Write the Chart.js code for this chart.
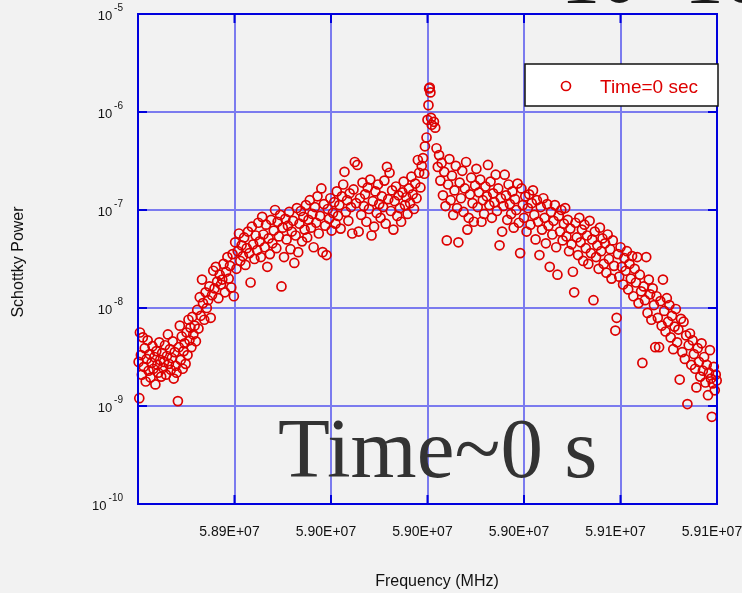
<!DOCTYPE html>
<html>
<head>
<meta charset="utf-8">
<script src="https://cdn.jsdelivr.net/npm/chart.js@4/dist/chart.umd.min.js"></script>
<style>
  html, body { margin: 0; padding: 0; background: #f2f2f2; }
  #wrap { width: 742px; height: 593px; }
</style>
</head>
<body>
<div id="wrap"><canvas id="schottky" width="742" height="593"></canvas></div>
<script>
// frequency offset from 59.000 MHz, in kHz
const CENTER_HZ = 59000000;
const freqKHz = [
  -89.8,-89.6,-89.4,-89.1,-88.8,-88.5,-88.2,-87.9,-87.6,-87.3,
  -87.0,-86.7,-86.4,-86.1,-85.8,-85.5,-85.2,-84.9,-84.6,-84.3,
  -84.0,-83.7,-83.4,-83.1,-82.8,-82.5,-82.2,-81.9,-81.6,-81.3,
  -81.0,-80.7,-80.4,-80.1,-79.8,-79.5,-79.2,-78.9,-78.6,-78.3,
  -78.0,-77.6,-77.3,-77.0,-76.7,-76.4,-76.1,-75.8,-75.5,-75.2,
  -74.9,-74.6,-74.3,-74.0,-73.7,-73.4,-73.1,-72.8,-72.4,-72.0,
  -71.6,-71.2,-70.8,-70.5,-70.1,-69.8,-69.4,-69.0,-68.6,-68.2,
  -67.8,-67.4,-67.0,-66.6,-66.2,-65.8,-65.4,-65.0,-64.6,-64.2,
  -63.8,-63.4,-63.0,-62.6,-62.2,-61.8,-61.4,-61.0,-60.6,-60.2,
  -59.8,-59.4,-59.0,-58.6,-58.2,-57.8,-57.4,-57.0,-56.6,-56.2,
  -55.8,-55.4,-55.0,-54.6,-54.2,-53.8,-53.4,-53.0,-52.6,-52.2,
  -51.8,-51.4,-51.0,-50.6,-50.2,-49.8,-49.4,-49.0,-48.6,-48.2,
  -47.8,-47.4,-47.0,-46.6,-46.2,-45.8,-45.4,-45.0,-44.6,-44.2,
  -43.8,-43.4,-43.0,-42.6,-42.2,-41.8,-41.4,-41.0,-40.6,-40.2,
  -39.8,-39.4,-39.0,-38.6,-38.2,-37.8,-37.4,-37.0,-36.6,-36.2,
  -35.8,-35.4,-35.0,-34.6,-34.2,-33.8,-33.4,-33.0,-32.6,-32.2,
  -31.8,-31.4,-31.0,-30.6,-30.2,-29.8,-29.4,-29.0,-28.6,-28.2,
  -27.8,-27.4,-27.0,-26.6,-26.2,-25.8,-25.4,-25.0,-24.6,-24.2,
  -23.8,-23.4,-23.0,-22.6,-22.2,-21.8,-21.4,-21.0,-20.6,-20.2,
  -19.8,-19.4,-19.0,-18.6,-18.2,-17.8,-17.4,-17.0,-16.6,-16.2,
  -15.8,-15.4,-15.0,-14.6,-14.2,-13.8,-13.4,-13.0,-12.6,-12.2,
  -11.8,-11.4,-11.0,-10.6,-10.2,-9.8,-9.4,-9.0,-8.6,-8.2,
  -7.8,-7.4,-7.0,-6.6,-6.2,-5.8,-5.4,-5.0,-4.6,-4.2,
  -3.8,-3.4,-3.0,-2.6,-2.2,-1.8,-1.4,-1.0,-0.8,-0.3,
  0.0,0.3,0.5,0.7,0.9,1.1,1.3,2.0,2.4,2.8,
  3.2,3.6,4.0,4.4,4.8,5.2,5.6,6.0,6.4,6.8,
  7.2,7.6,8.0,8.4,8.8,9.2,9.6,10.0,10.4,10.8,
  11.2,11.6,12.0,12.4,12.8,13.2,13.6,14.0,14.4,14.8,
  15.2,15.6,16.0,16.4,16.8,17.2,17.6,18.0,18.4,18.8,
  19.2,19.6,20.0,20.4,20.8,21.2,21.6,22.0,22.4,22.8,
  23.2,23.6,24.0,24.4,24.8,25.2,25.6,26.0,26.4,26.8,
  27.2,27.6,28.0,28.4,28.8,29.2,29.6,30.0,30.4,30.8,
  31.2,31.6,32.0,32.4,32.8,33.2,33.6,34.0,34.4,34.8,
  35.2,35.6,36.0,36.4,36.8,37.2,37.6,38.0,38.4,38.8,
  39.2,39.6,40.0,40.4,40.8,41.2,41.6,42.0,42.4,42.8,
  43.2,43.6,44.0,44.4,44.8,45.2,45.6,46.0,46.4,46.8,
  47.2,47.6,48.0,48.4,48.8,49.2,49.6,50.0,50.4,50.8,
  51.2,51.6,52.0,52.4,52.8,53.2,53.6,54.0,54.4,54.8,
  55.2,55.6,56.0,56.4,56.8,57.2,57.6,58.0,58.4,58.8,
  59.2,59.6,60.0,60.4,60.8,61.2,61.6,62.0,62.4,62.8,
  63.2,63.6,64.0,64.4,64.8,65.2,65.6,66.0,66.4,66.8,
  67.2,67.6,68.0,68.4,68.8,69.2,69.6,70.0,70.4,70.8,
  71.2,71.6,72.0,72.4,72.8,73.2,73.6,74.0,74.4,74.8,
  75.2,75.6,76.0,76.4,76.8,77.2,77.6,78.0,78.4,78.8,
  79.2,79.6,80.0,80.4,80.8,81.2,81.6,82.0,82.4,82.8,
  83.2,83.6,84.0,84.4,84.8,85.2,85.6,86.0,86.4,86.8,
  87.2,87.5,87.8,88.1,88.4,88.7,89.0,89.3,89.6,89.9
];
// log10 of the Schottky power
const logPower = [
  -8.55,-8.92,-8.25,-8.48,-8.68,-8.30,-8.60,-8.41,-8.75,-8.52,
  -8.33,-8.64,-8.47,-8.71,-8.56,-8.39,-8.62,-8.50,-8.78,-8.44,
  -8.58,-8.66,-8.35,-8.53,-8.70,-8.46,-8.61,-8.55,-8.38,-8.68,
  -8.49,-8.27,-8.57,-8.42,-8.63,-8.51,-8.34,-8.72,-8.45,-8.59,
  -8.66,-8.95,-8.40,-8.18,-8.53,-8.29,-8.62,-8.44,-8.36,-8.57,
  -8.25,-8.48,-8.12,-8.33,-8.20,-8.40,-8.09,-8.27,-8.18,-8.34,
  -8.02,-8.21,-7.89,-8.08,-7.71,-7.95,-8.12,-7.84,-8.00,-7.92,
  -7.78,-8.10,-7.87,-7.62,-7.80,-7.58,-7.73,-7.90,-7.66,-7.76,
  -7.71,-7.55,-7.84,-7.63,-7.48,-7.70,-7.57,-7.79,-7.45,-7.88,
  -7.33,-7.60,-7.42,-7.24,-7.52,-7.36,-7.47,-7.28,-7.56,-7.39,
  -7.22,-7.44,-7.74,-7.17,-7.35,-7.50,-7.26,-7.41,-7.13,-7.32,
  -7.48,-7.07,-7.25,-7.38,-7.15,-7.58,-7.29,-7.45,-7.10,-7.34,
  -7.21,-7.00,-7.39,-7.12,-7.27,-7.05,-7.78,-7.18,-7.48,-7.09,
  -7.30,-7.16,-7.02,-7.40,-7.22,-7.11,-7.54,-7.26,-6.98,-7.43,
  -7.14,-7.01,-7.32,-7.07,-7.20,-6.95,-7.28,-7.10,-6.90,-7.18,
  -7.04,-7.38,-6.97,-7.13,-6.86,-7.24,-7.06,-6.78,-7.43,-6.94,
  -7.16,-7.46,-6.99,-7.09,-6.88,-7.21,-7.03,-6.92,-7.14,-6.81,
  -7.06,-6.95,-7.19,-6.86,-6.74,-6.61,-7.02,-6.90,-7.11,-6.83,
  -6.97,-7.24,-6.79,-6.51,-6.93,-6.54,-7.22,-6.88,-7.05,-6.72,
  -6.96,-6.84,-7.12,-6.77,-6.99,-6.69,-7.26,-6.91,-7.17,-6.81,
  -7.03,-6.74,-6.94,-7.08,-6.86,-6.97,-6.70,-7.14,-6.56,-6.89,
  -6.62,-7.01,-6.80,-7.20,-6.91,-6.76,-7.06,-6.85,-6.98,-7.12,
  -6.82,-6.71,-6.95,-6.87,-7.04,-6.78,-6.93,-6.66,-6.84,-6.99,
  -6.73,-6.88,-6.49,-6.62,-6.77,-6.55,-6.47,-6.63,-6.35,-6.26,
  -6.08,-5.93,-5.76,-5.75,-5.80,-6.06,-6.13,-6.10,-6.16,-6.37,
  -6.56,-6.44,-6.70,-6.52,-6.85,-6.61,-6.96,-7.31,-6.74,-6.48,
  -6.90,-6.65,-7.05,-6.80,-6.55,-6.98,-7.33,-6.72,-6.88,-6.60,
  -7.02,-6.78,-6.51,-7.20,-7.08,-6.84,-6.67,-6.93,-7.12,-6.75,
  -6.58,-6.97,-6.82,-6.69,-7.12,-6.90,-7.04,-6.76,-6.86,-6.54,
  -6.95,-6.71,-7.08,-6.83,-6.92,-6.64,-7.01,-6.78,-7.36,-6.88,
  -7.22,-6.96,-6.64,-6.85,-7.10,-6.74,-6.94,-7.04,-6.81,-7.18,
  -6.89,-7.00,-6.73,-7.13,-7.44,-6.78,-6.95,-7.08,-6.86,-7.22,
  -6.98,-6.84,-7.15,-6.93,-6.80,-7.05,-7.30,-6.90,-7.12,-7.46,
  -6.97,-7.20,-6.88,-7.08,-7.34,-6.94,-7.16,-7.58,-7.02,-7.25,
  -7.11,-6.95,-7.38,-7.66,-7.06,-7.22,-7.00,-7.31,-7.14,-6.98,
  -7.27,-7.10,-7.42,-7.19,-7.35,-7.63,-7.84,-7.13,-7.28,-7.46,
  -7.08,-7.33,-7.20,-7.52,-7.15,-7.39,-7.26,-7.55,-7.11,-7.44,
  -7.30,-7.92,-7.22,-7.48,-7.36,-7.60,-7.18,-7.42,-7.29,-7.55,
  -7.34,-7.64,-7.25,-7.50,-7.40,-7.70,-7.31,-7.57,-8.23,-8.10,
  -7.45,-7.68,-7.38,-7.58,-7.76,-7.49,-7.62,-7.42,-7.81,-7.55,
  -7.70,-7.47,-7.88,-7.60,-7.74,-7.48,-7.95,-7.66,-7.83,-8.56,
  -7.78,-7.92,-7.48,-8.05,-7.71,-7.86,-8.12,-7.80,-7.97,-8.40,
  -7.88,-8.10,-8.40,-7.93,-8.18,-7.71,-8.03,-8.24,-7.90,-8.14,
  -7.97,-8.30,-8.08,-8.42,-8.19,-8.01,-8.35,-8.22,-8.73,-8.11,
  -8.45,-8.14,-8.52,-8.28,-8.98,-8.38,-8.26,-8.58,-8.33,-8.47,
  -8.62,-8.81,-8.41,-8.55,-8.70,-8.36,-8.64,-8.50,-8.76,-8.58,
  -8.89,-8.66,-8.43,-8.72,-9.11,-8.77,-8.60,-8.84,-8.68,-8.74
];

const xTickValues = [58910000, 58940000, 58970000, 59000000, 59030000, 59060000, 59090000];
const xTickLabels = ['', '5.89E+07', '5.90E+07', '5.90E+07', '5.90E+07', '5.91E+07', '5.91E+07'];
const yTickValues = [1e-10, 1e-9, 1e-8, 1e-7, 1e-6, 1e-5];
const yTickExponents = ['-10', '-9', '-8', '-7', '-6', '-5'];

const seriesLabel = 'Time=0 sec';
const overlayText = 'Time~0 s';
const headerText = '10 -10';

const points = freqKHz.map((f, i) => ({ x: CENTER_HZ + f * 1000, y: Math.pow(10, logPower[i]) }));

const RED = '#dd0000';
const FRAME = '#0000dd';

const decorations = {
    id: 'decorations',
    beforeDraw(chart) {
        const ctx = chart.ctx;
        ctx.save();
        ctx.fillStyle = '#f2f2f2';
        ctx.fillRect(0, 0, chart.width, chart.height);
        ctx.restore();
    },
    afterDraw(chart) {
        const ctx = chart.ctx;
        const a = chart.chartArea;
        const xs = chart.scales.x;
        const ys = chart.scales.y;
        ctx.save();

        // frame
        ctx.strokeStyle = FRAME;
        ctx.lineWidth = 2;
        ctx.strokeRect(a.left, a.top, a.right - a.left, a.bottom - a.top);

        // inward tick marks
        ctx.beginPath();
        xTickValues.forEach(v => {
            const px = xs.getPixelForValue(v);
            ctx.moveTo(px, a.top); ctx.lineTo(px, a.top + 9);
            ctx.moveTo(px, a.bottom); ctx.lineTo(px, a.bottom - 9);
        });
        yTickValues.forEach(v => {
            const py = ys.getPixelForValue(v);
            ctx.moveTo(a.left, py); ctx.lineTo(a.left + 9, py);
            ctx.moveTo(a.right, py); ctx.lineTo(a.right - 9, py);
        });
        ctx.stroke();

        // y tick labels 10^n
        ctx.fillStyle = '#111';
        ctx.textBaseline = 'alphabetic';
        yTickValues.forEach((v, i) => {
            const py = ys.getPixelForValue(v);
            ctx.font = '10px "Liberation Sans", Arial, sans-serif';
            const supW = ctx.measureText(yTickExponents[i]).width;
            const right = 123;
            ctx.textAlign = 'left';
            ctx.fillText(yTickExponents[i], right - supW, py - 3);
            ctx.font = '13px "Liberation Sans", Arial, sans-serif';
            ctx.textAlign = 'right';
            ctx.fillText('10', right - supW - 2, py + 6);
        });

        // x tick labels
        ctx.font = '14px "Liberation Sans", Arial, sans-serif';
        ctx.textAlign = 'center';
        xTickValues.forEach((v, i) => {
            ctx.fillText(xTickLabels[i], xs.getPixelForValue(v) - 5, 536);
        });

        // axis titles
        ctx.font = '16px "Liberation Sans", Arial, sans-serif';
        ctx.fillText('Frequency (MHz)', 437, 586);
        ctx.save();
        ctx.translate(23, 262);
        ctx.rotate(-Math.PI / 2);
        ctx.fillText('Schottky Power', 0, 0);
        ctx.restore();

        // legend
        ctx.fillStyle = '#ffffff';
        ctx.fillRect(525, 64, 193, 42);
        ctx.strokeStyle = '#111';
        ctx.lineWidth = 1.5;
        ctx.strokeRect(525, 64, 193, 42);
        ctx.strokeStyle = RED;
        ctx.lineWidth = 1.7;
        ctx.beginPath();
        ctx.arc(566, 86, 4.5, 0, Math.PI * 2);
        ctx.stroke();
        ctx.fillStyle = RED;
        ctx.font = '19px "Liberation Sans", Arial, sans-serif';
        ctx.textAlign = 'left';
        ctx.fillText(seriesLabel, 600, 93);

        // overlay caption
        ctx.fillStyle = '#333333';
        ctx.font = '85px "Liberation Serif", "Times New Roman", serif';
        ctx.fillText(overlayText, 278, 477);

        // clipped slide title at the top
        ctx.fillStyle = '#1a1a1a';
        ctx.font = '78px "Liberation Serif", "Times New Roman", serif';
        ctx.fillText(headerText, 561, 2);

        ctx.restore();
    }
};

const ctx = document.getElementById('schottky').getContext('2d');
const schottkyChart = new Chart(ctx, {
    type: 'scatter',
    data: {
        datasets: [{
            label: seriesLabel,
            data: points,
            pointStyle: 'circle',
            pointRadius: 4.5,
            pointBorderWidth: 1.7,
            pointBorderColor: RED,
            pointBackgroundColor: 'rgba(0,0,0,0)',
            borderColor: RED,
            backgroundColor: 'rgba(0,0,0,0)',
            clip: 7
        }]
    },
    options: {
        responsive: false,
        animation: false,
        events: [],
        layout: {
            padding: { left: 138, top: 14, right: 25, bottom: 89 }
        },
        plugins: {
            legend: { display: false },
            tooltip: { enabled: false }
        },
        scales: {
            x: {
                type: 'linear',
                min: xTickValues[0],
                max: xTickValues[xTickValues.length - 1],
                afterBuildTicks: (scale) => { scale.ticks = xTickValues.map(v => ({ value: v })); },
                ticks: { display: false },
                grid: { color: '#7b7bef', lineWidth: 2, drawTicks: false },
                border: { display: false }
            },
            y: {
                type: 'logarithmic',
                min: yTickValues[0],
                max: yTickValues[yTickValues.length - 1],
                afterBuildTicks: (scale) => { scale.ticks = yTickValues.map(v => ({ value: v })); },
                ticks: { display: false },
                grid: { color: '#7b7bef', lineWidth: 2, drawTicks: false },
                border: { display: false }
            }
        }
    },
    plugins: [decorations]
});
</script>
</body>
</html>
